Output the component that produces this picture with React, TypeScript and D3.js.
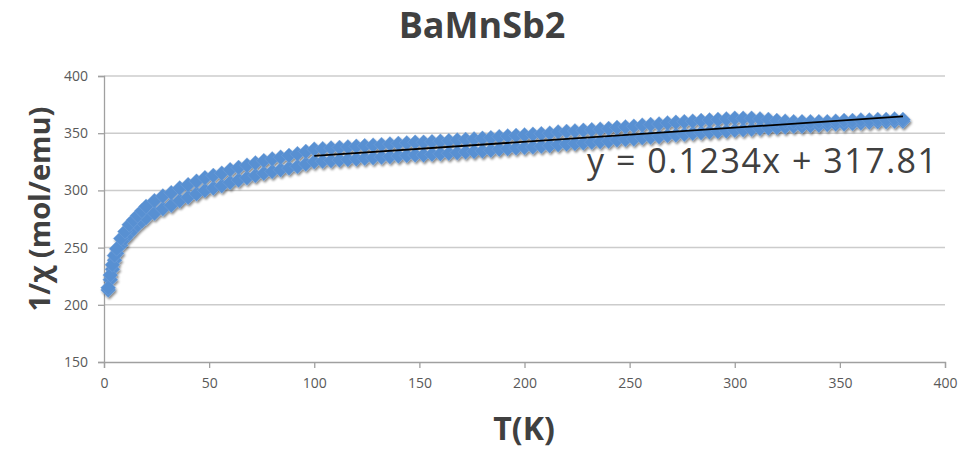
import { useEffect, useRef } from 'react';
import * as d3 from 'd3';

// Temperature points (K) shared by both sweeps
const temps = [
  2, 3, 4, 5, 6, 8, 10, 12, 14, 16, 18,
  20, 24, 28, 32, 36, 40, 44, 48, 52, 56,
  60, 64, 68, 72, 76, 80, 84, 88, 92, 96,
  100, 104, 108, 112, 116, 120, 124, 128, 132, 136,
  140, 144, 148, 152, 156, 160, 164, 168, 172, 176,
  180, 184, 188, 192, 196, 200, 204, 208, 212, 216,
  220, 224, 228, 232, 236, 240, 244, 248, 252, 256,
  260, 264, 268, 272, 276, 280, 284, 288, 292, 296,
  300, 304, 308, 312, 316, 320, 324, 328, 332, 336,
  340, 344, 348, 352, 356, 360, 364, 368, 372, 376, 380,
];

// 1/chi, upper sweep
const invChiUpper = [
  215, 226, 235, 243, 249, 258, 264, 270, 274, 278, 282,
  286, 291, 295, 298, 302, 305, 308, 311, 313, 315,
  318, 320, 322, 324, 326, 327.5, 329, 330.5, 332, 334,
  336, 336.5, 337, 337.5, 338, 338.5, 339, 339.5, 340, 340.5,
  341, 341.5, 342, 342, 342.5, 343, 343.5, 344, 344.5, 345,
  345.5, 346, 347, 347.5, 348, 348.5, 349, 349.5, 350, 351,
  351.5, 352, 352.5, 353, 353.5, 354, 355, 355.5, 356, 357,
  357.5, 358, 359, 359.5, 360, 360.5, 361, 361.5, 362, 362.5,
  363, 363, 363, 362.5, 362, 361, 360.5, 360, 360, 360,
  360, 360, 360.5, 361, 361, 361.5, 361.5, 362, 362, 362.5, 362,
];

// 1/chi, lower sweep
const invChiLower = [
  213, 222, 231, 239, 245, 252, 258, 262, 266, 270, 273,
  276, 280, 284, 287, 291, 294, 297, 300, 302, 304,
  307, 309, 311, 313, 315, 316.5, 318, 319.5, 321, 323,
  325, 325.5, 326, 326.5, 327, 327.5, 328, 328.5, 329, 329.5,
  330, 330.5, 331, 331, 331.5, 332, 332.5, 333, 333.5, 334,
  334.5, 335, 336, 336.5, 337, 337.5, 338, 338.5, 339, 340,
  340.5, 341, 341.5, 342, 342.5, 343, 344, 344.5, 345, 346,
  346.5, 347, 348, 348.5, 349, 350, 350.5, 351, 351.5, 352,
  352.5, 353, 353.5, 354, 354.5, 355, 355.5, 356, 356, 356.5,
  357, 357.5, 358, 358, 358.5, 359, 359.5, 360, 360, 360.5, 360.5,
];

// Linear fit (Excel trendline) over the high-T range
const fitSlope = 0.1234;
const fitIntercept = 317.81;
const fitRange = [100, 380];

const xTicks = [0, 50, 100, 150, 200, 250, 300, 350, 400];
const yTicks = [150, 200, 250, 300, 350, 400];

export default function App() {
  const svgRef = useRef<SVGSVGElement>(null);

  useEffect(() => {
    const W = 963;
    const H = 449;
    const svg = d3.select(svgRef.current).attr('width', W).attr('height', H);
    svg.selectAll('*').remove();

    const left = 104, right = 945, top = 76, bottom = 362;
    const x = d3.scaleLinear().domain([0, 400]).range([left, right]);
    const y = d3.scaleLinear().domain([150, 400]).range([bottom, top]);

    const font = '"Open Sans", sans-serif';
    const dark = '#404040';

    // drop shadow for the markers
    const defs = svg.append('defs');
    const f = defs.append('filter').attr('id', 'shadow')
      .attr('x', '-10%').attr('y', '-10%').attr('width', '120%').attr('height', '130%');
    f.append('feDropShadow')
      .attr('dx', 1.2).attr('dy', 2)
      .attr('stdDeviation', 1.2)
      .attr('flood-color', '#000')
      .attr('flood-opacity', 0.45);

    // gridlines
    svg.append('g')
      .selectAll('line')
      .data(yTicks.filter(d => d !== 150))
      .join('line')
      .attr('x1', left).attr('x2', right)
      .attr('y1', d => y(d)).attr('y2', d => y(d))
      .attr('stroke', '#cccccc')
      .attr('stroke-width', 1.5);

    // axes
    const xAxis = svg.append('g')
      .attr('transform', `translate(0,${bottom})`)
      .call(d3.axisBottom(x).tickValues(xTicks).tickSize(6).tickPadding(10));
    const yAxis = svg.append('g')
      .attr('transform', `translate(${left},0)`)
      .call(d3.axisLeft(y).tickValues(yTicks).tickSize(6).tickPadding(10));

    [xAxis, yAxis].forEach(g => {
      g.select('.domain').attr('stroke', '#a0a0a0').attr('stroke-width', 1.3);
      g.selectAll('.tick line').attr('stroke', '#a0a0a0').attr('stroke-width', 1.3);
      g.selectAll('.tick text')
        .attr('fill', '#595959')
        .style('font-family', font)
        .style('font-size', '14px');
    });

    // markers
    const diamond = 'M0,-7.5L7.5,0L0,7.5L-7.5,0Z';
    const pts = svg.append('g').attr('filter', 'url(#shadow)');
    [invChiLower, invChiUpper].forEach(series => {
      pts.append('g')
        .selectAll('path')
        .data(temps.map((t, i) => [t, series[i]]))
        .join('path')
        .attr('d', diamond)
        .attr('transform', d => `translate(${x(d[0])},${y(d[1])})`)
        .attr('fill', '#5990d2')
        .attr('stroke', '#76a4dc')
        .attr('stroke-width', 0.4);
    });

    // trendline
    const line = d3.line<number>()
      .x(t => x(t))
      .y(t => y(fitSlope * t + fitIntercept));
    svg.append('path')
      .datum(fitRange)
      .attr('d', line)
      .attr('fill', 'none')
      .attr('stroke', '#000')
      .attr('stroke-width', 1.8);

    // equation
    svg.append('text')
      .attr('x', 587).attr('y', 173)
      .attr('fill', dark)
      .attr('textLength', 350)
      .style('font-family', font)
      .style('font-size', '34px')
      .text(`y = ${fitSlope}x + ${fitIntercept}`);

    // title
    svg.append('text')
      .attr('x', 482).attr('y', 38)
      .attr('text-anchor', 'middle')
      .attr('fill', dark)
      .style('font-family', font)
      .style('font-weight', 'bold')
      .style('font-size', '36px')
      .text('BaMnSb2');

    // axis titles
    svg.append('text')
      .attr('x', 524).attr('y', 440)
      .attr('text-anchor', 'middle')
      .attr('fill', dark)
      .style('font-family', font)
      .style('font-weight', 'bold')
      .style('font-size', '32px')
      .text('T(K)');

    svg.append('text')
      .attr('transform', 'translate(50,209) rotate(-90)')
      .attr('text-anchor', 'middle')
      .attr('fill', dark)
      .style('font-family', font)
      .style('font-weight', 'bold')
      .style('font-size', '29px')
      .text('1/χ (mol/emu)');
  }, []);

  return (
    <svg
      ref={svgRef}
      style={{ position: 'absolute', left: 0, top: 0, background: '#fff' }}
    />
  );
}
